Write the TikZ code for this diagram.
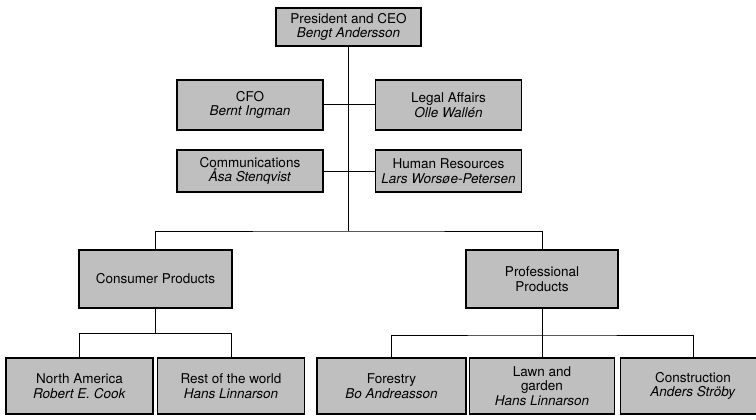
\documentclass[tikz,border=0pt]{standalone}
\usepackage{fontspec}
\setmainfont{TeX Gyre Heros}
\begin{document}
\begin{tikzpicture}[x=1pt,y=-1pt,
  unit/.style={draw,line width=1.4pt,fill=black!25,align=center,font=\fontsize{13.5}{14.5}\selectfont,inner sep=2pt},
  link/.style={line width=1pt}]
  \useasboundingbox (0,0) rectangle (756,420);
  \node[unit,minimum width=145,minimum height=38] (ceo) at (348.5,27) {President and CEO\\\textit{Bengt Andersson}};
  \node[unit,minimum width=146,minimum height=50] (cfo) at (250,105) {CFO\\\textit{Bernt Ingman}};
  \node[unit,minimum width=146,minimum height=50] (legal) at (448.5,105) {Legal Affairs\\\textit{Olle Wallén}};
  \node[unit,minimum width=146,minimum height=42] (comm) at (250,171) {Communications\\\textit{Åsa Stenqvist}};
  \node[unit,minimum width=146,minimum height=42] (hr) at (448.5,171) {Human Resources\\\textit{Lars Worsøe-Petersen}};
  \node[unit,minimum width=153,minimum height=58] (consumer) at (155.5,279) {Consumer Products};
  \node[unit,minimum width=152,minimum height=58] (prof) at (542,279) {Professional\\Products};
  \node[unit,minimum width=147,minimum height=56] (na) at (79.5,386) {North America\\\textit{Robert E. Cook}};
  \node[unit,minimum width=147,minimum height=56] (rest) at (231,386) {Rest of the world\\\textit{Hans Linnarson}};
  \node[unit,minimum width=149,minimum height=56] (forestry) at (391.5,386) {Forestry\\\textit{Bo Andreasson}};
  \node[unit,minimum width=145,minimum height=56] (lawn) at (542,386) {Lawn and\\garden\\\textit{Hans Linnarson}};
  \node[unit,minimum width=145,minimum height=56] (constr) at (693,386) {Construction\\\textit{Anders Ströby}};
  % links
  \coordinate (split) at (348.5,231);
  \draw[link] (ceo.south) -- (split);
  \draw[link] (cfo.east) -- (legal.west);
  \draw[link] (comm.east) -- (hr.west);
  \draw[link] (consumer.north) |- (split) -| (prof.north);
  \draw[link] (consumer.south) -- +(0,25) coordinate (csplit);
  \draw[link] (na.north) |- (csplit) -| (rest.north);
  \draw[link] (prof.south) -- (lawn.north);
  \coordinate (psplit) at (542,335);
  \draw[link] (forestry.north) |- (psplit) -| (constr.north);
\end{tikzpicture}
\end{document}
